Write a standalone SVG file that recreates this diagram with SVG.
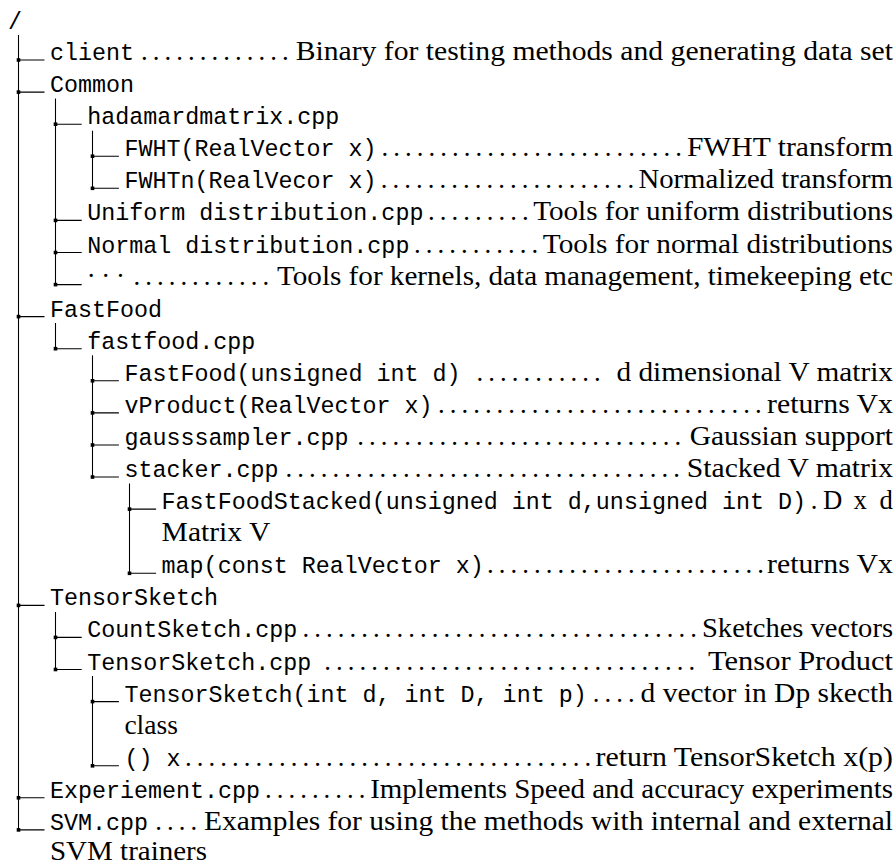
<svg xmlns="http://www.w3.org/2000/svg" width="896" height="866" viewBox="0 0 896 866">
<style>
.tt{font-family:"Liberation Mono","DejaVu Sans Mono",monospace;font-size:23.35px;fill:#000}
.rm{font-family:"Liberation Serif","Times New Roman",serif;font-size:26.7px;fill:#000}
.dots{font-family:"Liberation Serif","Times New Roman",serif;font-size:26.7px;letter-spacing:5.075px;fill:#000}
.ln{stroke:#000;stroke-width:1.07;fill:none}
.sq{fill:#000}
</style>
<rect width="896" height="866" fill="#fff"/>
<g id="connectors">
<path class="ln" d="M18.5 35V829.9 M55.5 98.6V284.6 M92.5 130.7V188.3 M55.5 323.1V348.7 M92.5 355.2V477 M129.5 483.5V573.3 M55.5 611.9V669.5 M92.5 676V765.8"/>
<path class="ln" d="M18.5 60H44.5 M18.5 92.1H44.5 M55.5 124.2H81.7 M92.5 156.2H118.9 M92.5 188.3H118.9 M55.5 220.4H81.7 M55.5 252.5H81.7 M55.5 284.6H81.7 M18.5 316.6H44.5 M55.5 348.7H81.7 M92.5 380.8H118.9 M92.5 412.9H118.9 M92.5 445H118.9 M92.5 477H118.9 M129.5 509.1H156.1 M129.5 573.3H156.1 M18.5 605.4H44.5 M55.5 637.4H81.7 M55.5 669.5H81.7 M92.5 701.6H118.9 M92.5 765.8H118.9 M18.5 797.8H44.5 M18.5 829.9H44.5"/>
<g class="sq">
<rect x="16.7" y="58.2" width="3.6" height="3.6"/>
<rect x="16.7" y="90.3" width="3.6" height="3.6"/>
<rect x="53.7" y="122.4" width="3.6" height="3.6"/>
<rect x="90.7" y="154.4" width="3.6" height="3.6"/>
<rect x="90.7" y="186.5" width="3.6" height="3.6"/>
<rect x="53.7" y="218.6" width="3.6" height="3.6"/>
<rect x="53.7" y="250.7" width="3.6" height="3.6"/>
<rect x="53.7" y="282.8" width="3.6" height="3.6"/>
<rect x="16.7" y="314.8" width="3.6" height="3.6"/>
<rect x="53.7" y="346.9" width="3.6" height="3.6"/>
<rect x="90.7" y="379" width="3.6" height="3.6"/>
<rect x="90.7" y="411.1" width="3.6" height="3.6"/>
<rect x="90.7" y="443.2" width="3.6" height="3.6"/>
<rect x="90.7" y="475.2" width="3.6" height="3.6"/>
<rect x="127.7" y="507.3" width="3.6" height="3.6"/>
<rect x="127.7" y="571.5" width="3.6" height="3.6"/>
<rect x="16.7" y="603.6" width="3.6" height="3.6"/>
<rect x="53.7" y="635.6" width="3.6" height="3.6"/>
<rect x="53.7" y="667.7" width="3.6" height="3.6"/>
<rect x="90.7" y="699.8" width="3.6" height="3.6"/>
<rect x="90.7" y="764" width="3.6" height="3.6"/>
<rect x="16.7" y="796" width="3.6" height="3.6"/>
<rect x="16.7" y="828.1" width="3.6" height="3.6"/>
</g>
</g>
<g id="n-root"><text class="tt" x="8" y="28.5">/</text></g>
<g id="n-client"><text class="tt" x="50" y="60">client</text><text class="dots" x="141.1" y="60">.............</text><text class="rm" x="295.7" y="60" textLength="597.3" lengthAdjust="spacingAndGlyphs">Binary for testing methods and generating data set</text></g>
<g id="n-common"><text class="tt" x="50" y="92.1">Common</text></g>
<g id="n-hadamard"><text class="tt" x="87.2" y="124.2">hadamardmatrix.cpp</text></g>
<g id="n-fwht"><text class="tt" x="124.4" y="156.2">FWHT(RealVector x)</text><text class="dots" x="381.6" y="156.2">..........................</text><text class="rm" x="686.9" y="156.2" textLength="206.1" lengthAdjust="spacingAndGlyphs">FWHT transform</text></g>
<g id="n-fwhtn"><text class="tt" x="124.4" y="188.3">FWHTn(RealVecor x)</text><text class="dots" x="380.8" y="188.3">......................</text><text class="rm" x="638.4" y="188.3" textLength="254.6" lengthAdjust="spacingAndGlyphs">Normalized transform</text></g>
<g id="n-uniform"><text class="tt" x="87.2" y="220.4">Uniform distribution.cpp</text><text class="dots" x="428" y="220.4">.........</text><text class="rm" x="533.2" y="220.4" textLength="359.8" lengthAdjust="spacingAndGlyphs">Tools for uniform distributions</text></g>
<g id="n-normal"><text class="tt" x="87.2" y="252.5">Normal distribution.cpp</text><text class="dots" x="414.1" y="252.5">...........</text><text class="rm" x="542.8" y="252.5" textLength="350.2" lengthAdjust="spacingAndGlyphs">Tools for normal distributions</text></g>
<g id="n-etc"><text class="rm" x="86.7" y="284.6" style="letter-spacing:5.8px">···</text><text class="dots" x="133.4" y="284.6">............</text><text class="rm" x="277" y="284.6" textLength="616" lengthAdjust="spacingAndGlyphs">Tools for kernels, data management, timekeeping etc</text></g>
<g id="n-fastfood"><text class="tt" x="50" y="316.6">FastFood</text></g>
<g id="n-fastfoodcpp"><text class="tt" x="87.2" y="348.7">fastfood.cpp</text></g>
<g id="n-ffunsigned"><text class="tt" x="124.4" y="380.8">FastFood(unsigned int d)</text><text class="dots" x="476.5" y="380.8">...........</text><text class="rm" x="616.4" y="380.8" textLength="276.6" lengthAdjust="spacingAndGlyphs">d dimensional V matrix</text></g>
<g id="n-vproduct"><text class="tt" x="124.4" y="412.9">vProduct(RealVector x)</text><text class="dots" x="437.9" y="412.9">............................</text><text class="rm" x="767.1" y="412.9" textLength="125.9" lengthAdjust="spacingAndGlyphs">returns Vx</text></g>
<g id="n-gauss"><text class="tt" x="124.4" y="445">gausssampler.cpp</text><text class="dots" x="357.3" y="445">............................</text><text class="rm" x="689.8" y="445" textLength="203.2" lengthAdjust="spacingAndGlyphs">Gaussian support</text></g>
<g id="n-stacker"><text class="tt" x="124.4" y="477">stacker.cpp</text><text class="dots" x="285.5" y="477">..................................</text><text class="rm" x="686.8" y="477" textLength="206.2" lengthAdjust="spacingAndGlyphs">Stacked V matrix</text></g>
<g id="n-ffstacked"><text class="tt" x="161.6" y="509.1">FastFoodStacked(unsigned int d,unsigned int D)</text><text class="rm" x="810.7" y="509.1">.</text><text class="rm" x="823" y="509.1">D</text><text class="rm" x="853.5" y="509.1">x</text><text class="rm" x="879.5" y="509.1">d</text><text class="rm" x="161.6" y="541.2" textLength="108.7" lengthAdjust="spacingAndGlyphs">Matrix V</text></g>
<g id="n-map"><text class="tt" x="161.6" y="573.3">map(const RealVector x)</text><text class="dots" x="487" y="573.3">........................</text><text class="rm" x="767.1" y="573.3" textLength="125.9" lengthAdjust="spacingAndGlyphs">returns Vx</text></g>
<g id="n-tensorsketch"><text class="tt" x="50" y="605.4">TensorSketch</text></g>
<g id="n-countsketch"><text class="tt" x="87.2" y="637.4">CountSketch.cpp</text><text class="dots" x="302.5" y="637.4">..................................</text><text class="rm" x="702" y="637.4" textLength="191" lengthAdjust="spacingAndGlyphs">Sketches vectors</text></g>
<g id="n-tensorsketchcpp"><text class="tt" x="87.2" y="669.5">TensorSketch.cpp</text><text class="dots" x="324.3" y="669.5">................................</text><text class="rm" x="708" y="669.5" textLength="185" lengthAdjust="spacingAndGlyphs">Tensor Product</text></g>
<g id="n-tsctor"><text class="tt" x="124.4" y="701.6">TensorSketch(int d, int D, int p)</text><text class="dots" x="592.7" y="701.6">....</text><text class="rm" x="640.5" y="701.6" textLength="252.5" lengthAdjust="spacingAndGlyphs">d vector in Dp skecth</text><text class="rm" x="124.4" y="733.7" textLength="53.5" lengthAdjust="spacingAndGlyphs">class</text></g>
<g id="n-call"><text class="tt" x="124.4" y="765.8">() x</text><text class="dots" x="185" y="765.8">...................................</text><text class="rm" x="595.6" y="765.8" textLength="297.4" lengthAdjust="spacingAndGlyphs">return TensorSketch x(p)</text></g>
<g id="n-experiment"><text class="tt" x="50" y="797.8">Experiement.cpp</text><text class="dots" x="264.9" y="797.8">.........</text><text class="rm" x="370.2" y="797.8" textLength="522.8" lengthAdjust="spacingAndGlyphs">Implements Speed and accuracy experiments</text></g>
<g id="n-svm"><text class="tt" x="50" y="829.9">SVM.cpp</text><text class="dots" x="155.2" y="829.9">....</text><text class="rm" x="204" y="829.9" textLength="689" lengthAdjust="spacingAndGlyphs">Examples for using the methods with internal and external</text><text class="rm" x="50" y="859.5" textLength="157" lengthAdjust="spacingAndGlyphs">SVM trainers</text></g>
</svg>
